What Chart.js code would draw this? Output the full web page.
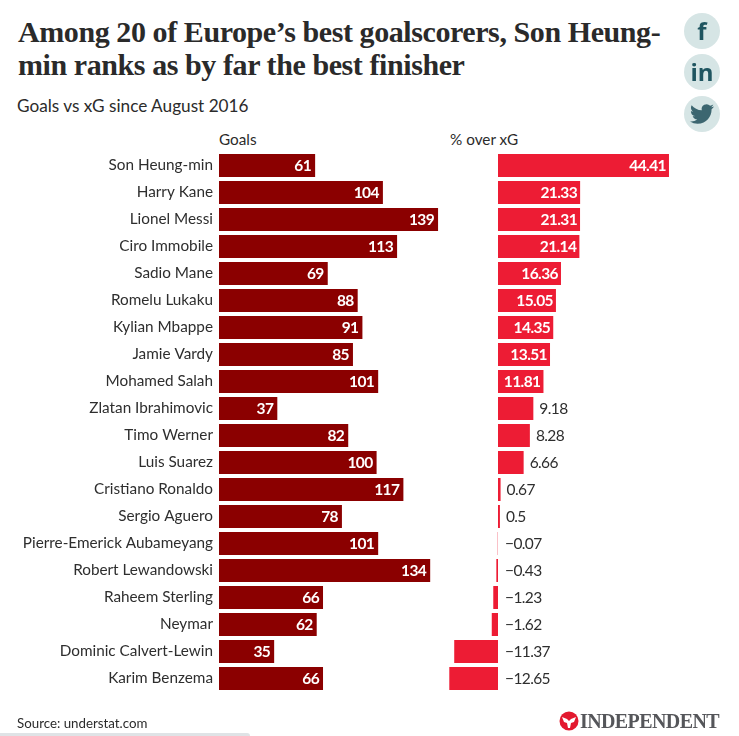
<!DOCTYPE html>
<html><head><meta charset="utf-8">
<script src="https://cdn.jsdelivr.net/npm/chart.js@4"></script>
<style>
html,body{margin:0;padding:0;background:#fff;width:739px;height:736px;overflow:hidden;font-family:Lato,sans-serif;color:#2b2b2b}
.t{position:absolute;white-space:nowrap}
#title{left:18px;top:15px;font:bold 30px/33px "Liberation Serif",serif;color:#2a2a2a;letter-spacing:-.42px}
#sub{left:17px;top:95px;font-size:17.2px;line-height:22px}
.h{top:130px;font-size:15.3px;line-height:18px}
#src{left:17px;top:714px;font-size:13.3px;line-height:18px}
canvas{position:absolute;left:0;top:0}
.c{position:absolute;left:684px;width:36px;height:36px;border-radius:50%;background:#d6e5e5;color:#1f5560;text-align:center;font:bold 24px/36px "Open Sans",sans-serif}
#logo{left:580px;top:710px;font:bold 20px/22px "Liberation Serif",serif;color:#55565a;letter-spacing:-.6px}
#bar{position:absolute;left:0;top:733px;width:250px;height:3px;background:#dfe3e6;border-radius:0 4px 0 0}
</style></head><body>
<div class="t" id="title">Among 20 of Europe’s best goalscorers, Son Heung-<br>min ranks as by far the best finisher</div>
<div class="t" id="sub">Goals vs xG since August 2016</div>
<div class="t h" style="left:219px">Goals</div>
<div class="t h" style="left:450px">% over xG</div>
<canvas id="c" width="739" height="736"></canvas>
<div class="c" style="top:13px">f</div>
<div class="c" style="top:54px">in</div>
<div class="c" style="top:96px"><svg width="24" height="24" viewBox="0 0 24 24" style="margin-top:6px"><path fill="#3c6670" d="M23.95 4.57a10 10 0 0 1-2.82.77 4.96 4.96 0 0 0 2.16-2.72c-.95.55-2 .95-3.13 1.19a4.92 4.92 0 0 0-8.38 4.48C7.69 8.1 4.07 6.13 1.64 3.16a4.82 4.82 0 0 0-.66 2.47c0 1.71.87 3.21 2.19 4.1a4.9 4.9 0 0 1-2.23-.62v.06a4.92 4.92 0 0 0 3.95 4.83 5 5 0 0 1-2.21.08 4.94 4.94 0 0 0 4.6 3.42A9.87 9.87 0 0 1 0 19.54a14 14 0 0 0 7.56 2.21c9.05 0 14-7.5 14-13.98 0-.21 0-.42-.02-.63a9.94 9.94 0 0 0 2.46-2.55z"/></svg></div>
<div class="t" id="src">Source: understat.com</div>
<svg style="position:absolute;left:559px;top:711px" width="20" height="20" viewBox="0 0 20 20"><circle cx="10" cy="10" r="9.5" fill="#e3192f"/><path fill="#fff" d="M3 6l5 2 2 2 2-2 5-2-2 5-3 1-1 5h-2l-1-5-3-1z"/></svg>
<div class="t" id="logo">INDEPENDENT</div>
<div id="bar"></div>
<script>
const players=["Son Heung-min","Harry Kane","Lionel Messi","Ciro Immobile","Sadio Mane","Romelu Lukaku","Kylian Mbappe","Jamie Vardy","Mohamed Salah","Zlatan Ibrahimovic","Timo Werner","Luis Suarez","Cristiano Ronaldo","Sergio Aguero","Pierre-Emerick Aubameyang","Robert Lewandowski","Raheem Sterling","Neymar","Dominic Calvert-Lewin","Karim Benzema"];
const goals=[61,104,139,113,69,88,91,85,101,37,82,100,117,78,101,134,66,62,35,66];
const overXG=[44.41,21.33,21.31,21.14,16.36,15.05,14.35,13.51,11.81,9.18,8.28,6.66,0.67,0.5,-0.07,-0.43,-1.23,-1.62,-11.37,-12.65];
const DARK="#8b0000",RED="#ed1c34",TXT="#2e2e2e";
const fmt=v=>(v<0?"\u2212":"")+Math.abs(v);
const valueLabels={id:"valueLabels",afterDatasetsDraw(ch){
  const {ctx,scales:{y,xg,xp}}=ch;
  ctx.save();ctx.textBaseline="middle";ctx.letterSpacing="-0.6px";
  goals.forEach((v,i)=>{
    ctx.font="bold 15.5px Lato";ctx.fillStyle="#fff";ctx.textAlign="right";
    ctx.fillText(String(v),xg.getPixelForValue(v)-4,y.getPixelForValue(i)+.5);
  });
  overXG.forEach((v,i)=>{
    const py=y.getPixelForValue(i)+.5;
    if(v>10){ctx.font="bold 15.5px Lato";ctx.fillStyle="#fff";ctx.textAlign="right";
      ctx.fillText(fmt(v),xp.getPixelForValue(v)-3,py);}
    else{ctx.font="15.5px Lato";ctx.fillStyle=TXT;ctx.textAlign="left";
      const b=v>0?xp.getPixelForValue(v):xp.getPixelForValue(0);
      ctx.fillText(fmt(v),b+(v>0?6:7),py);}
  });
  ctx.restore();
}};
const XG0=498,XSPAN=481,PL=219,GS=1.576,PS=3.85;
new Chart(document.getElementById("c"),{
  type:"bar",
  data:{labels:players,datasets:[
    {data:goals,xAxisID:"xg",backgroundColor:DARK,barPercentage:.85,categoryPercentage:1,grouped:false},
    {data:overXG,xAxisID:"xp",backgroundColor:RED,barPercentage:.85,categoryPercentage:1,grouped:false}
  ]},
  options:{indexAxis:"y",responsive:false,animation:false,devicePixelRatio:1,
    layout:{padding:{top:152,bottom:44,left:0,right:39}},
    plugins:{legend:{display:false},tooltip:{enabled:false},title:{display:false}},
    scales:{
      y:{grid:{display:false,drawTicks:false},border:{display:false},
        afterFit(s){s.width=PL;},
        ticks:{padding:6,color:TXT,font:{family:"Lato",size:15.3},autoSkip:false}},
      xg:{display:false,position:"bottom",min:0,max:XSPAN/GS},
      xp:{display:false,position:"bottom",min:(PL-XG0)/PS,max:(PL+XSPAN-XG0)/PS}
    }},
  plugins:[valueLabels]
});
</script></body></html>
